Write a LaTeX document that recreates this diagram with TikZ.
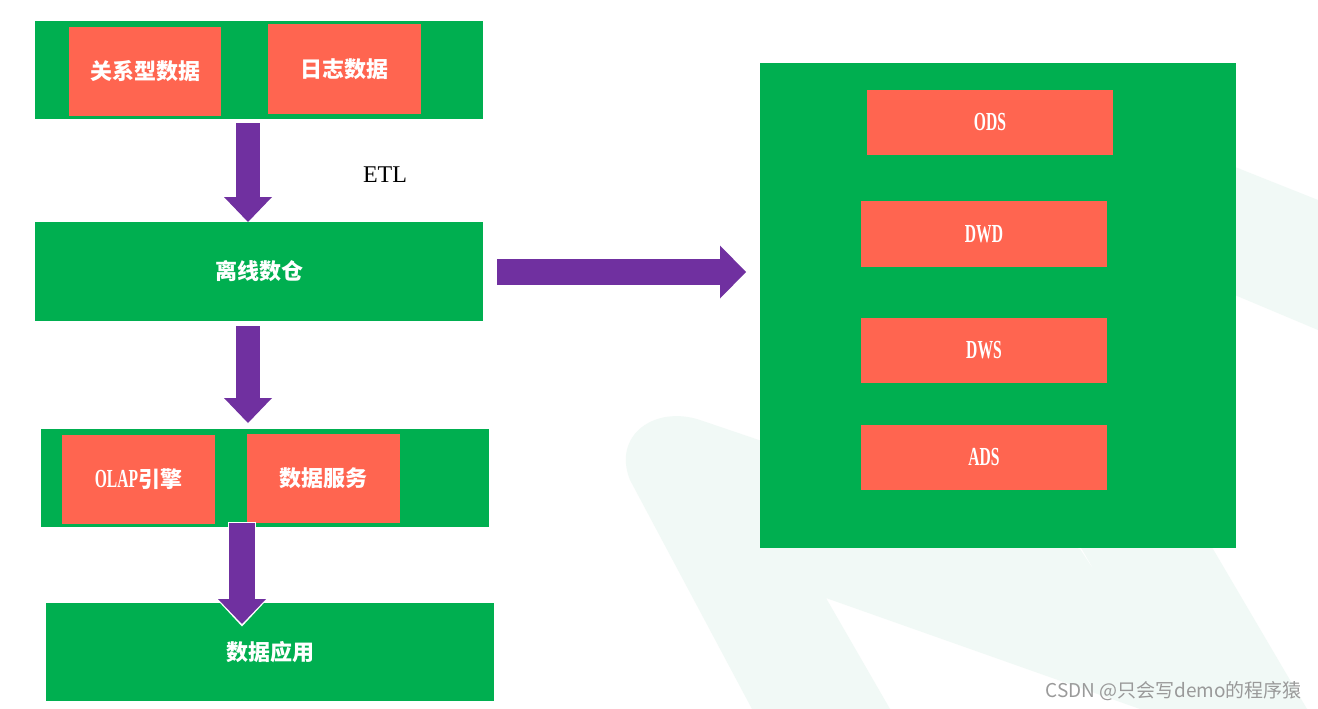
\documentclass[tikz,border=0pt]{standalone}
\usepackage{fontspec}
\usetikzlibrary{arrows.meta}
\newfontfamily\cjk{Noto Sans CJK SC}
\newfontfamily\nar[FakeStretch=0.6]{Liberation Serif}
\newfontfamily\etlfont{Liberation Serif}
\definecolor{grn}{HTML}{00AF50}
\definecolor{org}{HTML}{FF6550}
\definecolor{pur}{HTML}{7030A0}
\definecolor{wmk}{HTML}{F1F9F6}
\definecolor{wmt}{HTML}{9A9A9A}
\tikzset{
  gbox/.style={fill=grn, inner sep=0pt, text=white, font=\cjk\bfseries\fontsize{22}{22}\selectfont},
  obox/.style={fill=org, inner sep=0pt, text=white, font=\cjk\bfseries\fontsize{22}{22}\selectfont},
  latn/.style={font=\nar\bfseries\fontsize{26}{26}\selectfont},
  blockarrow/.style={draw=pur, line width=24pt, -{Triangle[length=25pt,width=48pt,line width=0pt]}},
  outlinearrow/.style={draw=white, line width=28pt, -{Triangle[length=28.5pt,width=53pt,line width=0pt]}},
  widearrow/.style={draw=pur, line width=26pt, -{Triangle[length=26pt,width=53pt,line width=0pt]}},
}
\begin{document}
\begin{tikzpicture}[x=1pt,y=-1pt]
\useasboundingbox[fill=white] (0,0) rectangle (1318,709);
% faint watermark logo
\fill[wmk] (752,709) -- (630,480) .. controls (612,435) and (655,405) .. (700,420)
  -- (1080,549) -- (1097,575) -- (1000,410) -- (1080,380) -- (1213,549) -- (1307,709)
  -- (1140,709) -- (826,598) -- (890,709) -- cycle;
\fill[wmk] (1230,165) -- (1318,200) -- (1318,330) -- (1230,293) -- cycle;

% left column
\node[gbox, minimum width=448pt, minimum height=98pt] (src) at (259,70) {};
\node[obox, minimum width=152pt, minimum height=89pt] (rel) at (145,71.5) {关系型数据};
\node[obox, minimum width=153pt, minimum height=90pt] (log) at (344.5,69) {日志数据};
\node[gbox, minimum width=448pt, minimum height=99pt] (off) at (259,271.5) {离线数仓};
\node[gbox, minimum width=448pt, minimum height=98pt] (eng) at (265,478) {};
\node[obox, minimum width=153pt, minimum height=89pt] (olap) at (138.5,479.5) {{\nar\bfseries\fontsize{26}{26}\selectfont OLAP}引擎};
\node[obox, minimum width=153pt, minimum height=89pt] (svc) at (323.5,478.5) {数据服务};
\node[gbox, minimum width=448pt, minimum height=98pt] (app) at (270,652) {数据应用};
\node[font=\etlfont\fontsize{24}{24}\selectfont, text=black] (etl) at (385,175) {ETL};

% right column
\node[gbox, minimum width=476pt, minimum height=485pt] (dw) at (998,305.5) {};
\node[obox, latn, minimum width=246pt, minimum height=65pt] (ods) at (990,122.5) {ODS};
\node[obox, latn, minimum width=246pt, minimum height=66pt] (dwd) at (984,234) {DWD};
\node[obox, latn, minimum width=246pt, minimum height=65pt] (dws) at (984,350.5) {DWS};
\node[obox, latn, minimum width=246pt, minimum height=65pt] (ads) at (984,457.5) {ADS};

% arrows
\coordinate (a1s) at (248,123);
\coordinate (a1e) at (248,222);
\draw[blockarrow] (a1s) -- (a1e);
\coordinate (a2s) at (248,326);
\coordinate (a2e) at (248,423);
\draw[blockarrow] (a2s) -- (a2e);
\coordinate (a3s) at (242,521.5);
\coordinate (a3e) at (242,626.5);
\coordinate (a3t) at (242,624);
\coordinate (a3b) at (242,523);
\draw[outlinearrow] (a3s) -- (a3e);
\draw[blockarrow, line width=26pt] (a3b) -- (a3t);
\coordinate (a4s) at (497,272);
\coordinate (a4e) at (746,272);
\draw[widearrow] (a4s) -- (a4e);

% watermark text
\node[anchor=base east, inner sep=0pt, text=wmt, font=\cjk\fontsize{19}{19}\selectfont] (wm) at (1302,697) {CSDN @只会写demo的程序猿};
\end{tikzpicture}
\end{document}
